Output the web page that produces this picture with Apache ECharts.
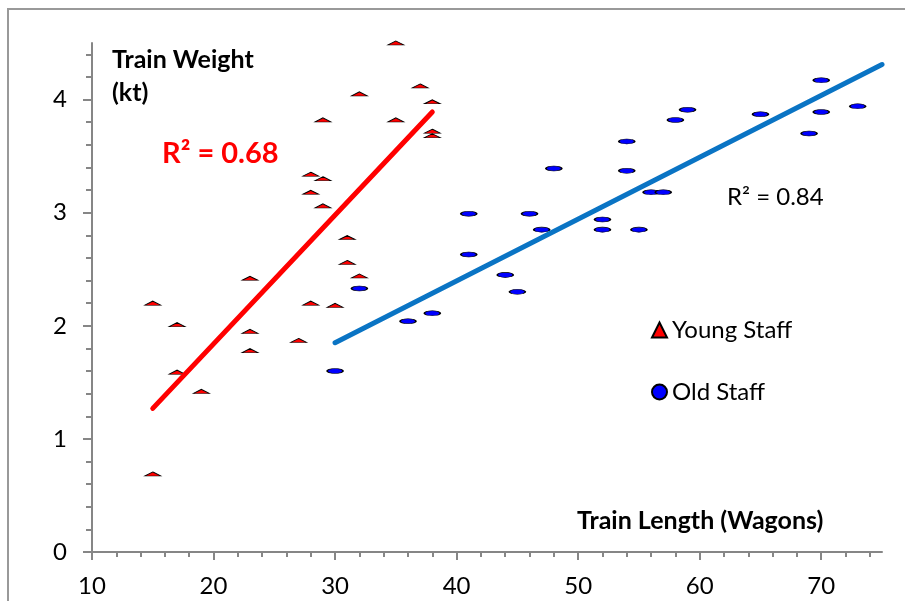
<!DOCTYPE html>
<html>
<head>
<meta charset="utf-8">
<script src="https://cdn.jsdelivr.net/npm/echarts@6/dist/echarts.min.js"></script>
<style>
html, body { margin: 0; padding: 0; background: #fff; }
#main { width: 905px; height: 601px; }
</style>
</head>
<body>
<div id="main"></div>
<script>
// [train length (wagons), train weight (kt)]
const youngStaff = [
  [15, 2.20], [15, 0.69], [17, 2.01], [17, 1.59], [19, 1.42],
  [23, 2.42], [23, 1.95], [23, 1.78], [27, 1.87], [28, 3.34],
  [28, 3.18], [28, 2.20], [29, 3.82], [29, 3.30], [29, 3.06],
  [30, 2.18], [31, 2.78], [31, 2.56], [32, 4.05], [32, 2.44],
  [35, 4.50], [35, 3.82], [37, 4.12], [38, 3.98], [38, 3.72], [38, 3.68]
];
const oldStaff = [
  [30, 1.60], [32, 2.33], [36, 2.04], [38, 2.11], [41, 2.99],
  [41, 2.63], [44, 2.45], [45, 2.30], [46, 2.99], [47, 2.85],
  [48, 3.39], [52, 2.94], [52, 2.85], [54, 3.63], [54, 3.37],
  [55, 2.85], [56, 3.18], [57, 3.18], [58, 3.82], [59, 3.91],
  [65, 3.87], [69, 3.70], [70, 4.17], [70, 3.89], [73, 3.94]
];
// linear trend lines (end points)
const youngTrend = [[15, 1.27], [38, 3.89]];
const oldTrend = [[30, 1.85], [75, 4.31]];

const xTicks = [10, 20, 30, 40, 50, 60, 70];
const yTicks = [0, 1, 2, 3, 4];

const FONT = "Lato";
const axisGray = "#868686";

let myChart = echarts.init(document.getElementById("main"));

let option = {
  backgroundColor: "#fff",
  animation: false,
  textStyle: { fontFamily: FONT },
  grid: { left: 92, right: 23, top: 43, bottom: 49 },
  legend: {
    orient: "vertical",
    left: 651,
    top: 318,
    padding: 0,
    itemGap: 38,
    itemWidth: 15,
    itemHeight: 15,
    itemStyle: { borderColor: "#000", borderWidth: 2 },
    textStyle: { fontFamily: FONT, fontSize: 24, color: "#000" },
    data: [
      { name: "Young Staff", icon: "triangle" },
      { name: "Old Staff", icon: "circle" }
    ]
  },
  xAxis: {
    type: "value",
    min: 10,
    max: 75,
    interval: 10,
    splitLine: { show: false },
    axisLine: { lineStyle: { color: axisGray, width: 2 } },
    axisTick: { customValues: xTicks, length: 8, lineStyle: { color: axisGray, width: 2 } },
    minorTick: { show: true, splitNumber: 5, length: 5, lineStyle: { color: axisGray, width: 2 } },
    axisLabel: { customValues: xTicks, margin: 22, fontSize: 24, color: "#000", fontFamily: FONT }
  },
  yAxis: {
    type: "value",
    min: 0,
    max: 4.5,
    interval: 1,
    splitLine: { show: false },
    axisLine: { show: true, lineStyle: { color: axisGray, width: 2 } },
    axisTick: { show: true, customValues: yTicks, length: 9, lineStyle: { color: axisGray, width: 2 } },
    minorTick: { show: true, splitNumber: 5, length: 6, lineStyle: { color: axisGray, width: 2 } },
    axisLabel: { customValues: yTicks, margin: 25, fontSize: 24, color: "#000", fontFamily: FONT }
  },
  graphic: [
    {
      type: "rect",
      shape: { x: 8, y: 9, width: 1200, height: 1200 },
      style: { fill: "none", stroke: "#999", lineWidth: 2 },
      silent: true
    },
    {
      type: "text",
      left: 112, top: 43,
      style: { text: "Train Weight\n(kt)", font: "bold 25px " + FONT, fill: "#000", lineHeight: 33 }
    },
    {
      type: "text",
      left: 162, top: 139,
      style: { text: "R² = 0.68", font: "bold 29px " + FONT, fill: "#ff0000" }
    },
    {
      type: "text",
      left: 727, top: 185,
      style: { text: "R² = 0.84", font: "24px " + FONT, fill: "#000" }
    },
    {
      type: "text",
      left: 577, top: 508,
      style: { text: "Train Length (Wagons)", font: "bold 25px " + FONT, fill: "#000" }
    }
  ],
  series: [
    {
      name: "Young Staff",
      type: "scatter",
      symbol: "triangle",
      symbolSize: [16, 4],
      itemStyle: { color: "#ff0000", borderColor: "#000", borderWidth: 1, opacity: 1 },
      data: youngStaff,
      z: 2
    },
    {
      name: "Old Staff",
      type: "scatter",
      symbol: "circle",
      symbolSize: [16, 5],
      itemStyle: { color: "#0000ff", borderColor: "#000", borderWidth: 1, opacity: 1 },
      data: oldStaff,
      z: 2
    },
    {
      name: "Young trend",
      type: "line",
      showSymbol: false,
      data: youngTrend,
      lineStyle: { color: "#ff0000", width: 5, cap: "round" },
      itemStyle: { color: "#ff0000" },
      z: 3
    },
    {
      name: "Old trend",
      type: "line",
      showSymbol: false,
      data: oldTrend,
      lineStyle: { color: "#0a74c4", width: 5, cap: "round" },
      itemStyle: { color: "#0a74c4" },
      z: 3
    }
  ]
};

myChart.setOption(option);
</script>
</body>
</html>
